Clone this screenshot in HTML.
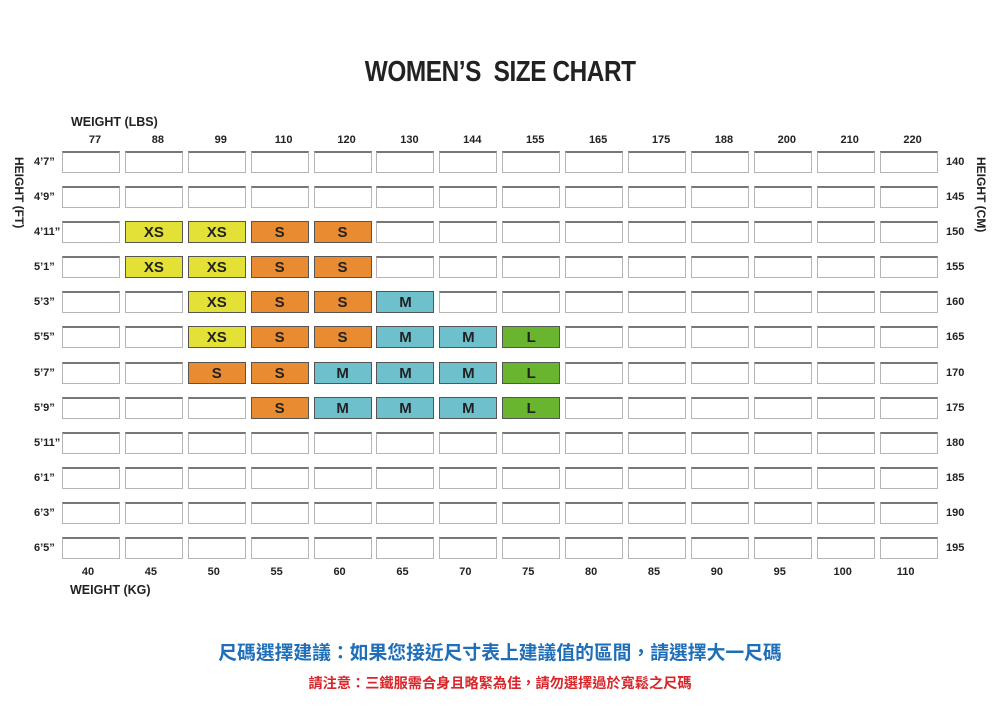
<!DOCTYPE html>
<html><head><meta charset="utf-8"><style>
body{margin:0;width:1000px;height:707px;background:#fff;position:relative;overflow:hidden;font-family:"Liberation Sans",Arial,sans-serif;color:#222}
.t{position:absolute;left:0;width:1000px;top:56px;text-align:center;font-size:29px;font-weight:bold;letter-spacing:-0.5px}
.t span{display:inline-block;transform:scaleX(0.84)}
.g{position:absolute;left:62px;top:151px;display:grid;grid-template-columns:repeat(14,58px);column-gap:4.9px;grid-auto-rows:22px;row-gap:13.1px}
.g i{box-sizing:border-box;border:1px solid #b5b5b5;border-top:2px solid #777;font-style:normal;font-weight:bold;font-size:15px;text-align:center;line-height:22px;color:#222}
.g i.y{background:#e3e036;border:1px solid #555}
.g i.o{background:#e88b31;border:1px solid #555}
.g i.c{background:#6fc0cd;border:1px solid #555}
.g i.l{background:#6ab52f;border:1px solid #555}
.h{position:absolute;display:grid;grid-template-columns:repeat(14,58px);column-gap:4.9px;font-size:11px;font-weight:bold;text-align:center}
.v{position:absolute;font-size:11px;font-weight:bold;line-height:35.1px}
.lab{position:absolute;font-size:12.5px;font-weight:bold}
.rot{position:absolute;font-size:12px;font-weight:bold;transform:rotate(90deg);transform-origin:left top;white-space:nowrap}
.cn1{position:absolute;left:0;width:1000px;top:638px;text-align:center;font-family:"Liberation Sans","Noto Sans CJK TC",sans-serif;font-size:18.8px;font-weight:bold;color:#1f6fb8}
.cn2{position:absolute;left:0;width:1000px;top:673px;text-align:center;font-family:"Liberation Sans","Noto Sans CJK TC",sans-serif;font-size:14.2px;font-weight:bold;color:#d8262a}
</style></head><body>
<div class="t"><span>WOMEN’S&nbsp; SIZE CHART</span></div>
<div class="lab" style="left:71px;top:115px">WEIGHT (LBS)</div>
<div class="h" style="left:66px;top:134px"><b>77</b><b>88</b><b>99</b><b>110</b><b>120</b><b>130</b><b>144</b><b>155</b><b>165</b><b>175</b><b>188</b><b>200</b><b>210</b><b>220</b></div>
<div class="h" style="left:59px;top:566px"><b>40</b><b>45</b><b>50</b><b>55</b><b>60</b><b>65</b><b>70</b><b>75</b><b>80</b><b>85</b><b>90</b><b>95</b><b>100</b><b>110</b></div>
<div class="lab" style="left:70px;top:583px">WEIGHT (KG)</div>
<div class="rot" style="left:26px;top:157px">HEIGHT (FT)</div>
<div class="rot" style="left:988px;top:157px">HEIGHT (CM)</div>
<div class="v" style="left:34px;top:145px">4’7”<br>4’9”<br>4’11”<br>5’1”<br>5’3”<br>5’5”<br>5’7”<br>5’9”<br>5’11”<br>6’1”<br>6’3”<br>6’5”</div>
<div class="v" style="left:946px;top:145px">140<br>145<br>150<br>155<br>160<br>165<br>170<br>175<br>180<br>185<br>190<br>195</div>
<div class="g">
<i></i><i></i><i></i><i></i><i></i><i></i><i></i><i></i><i></i><i></i><i></i><i></i><i></i><i></i>
<i></i><i></i><i></i><i></i><i></i><i></i><i></i><i></i><i></i><i></i><i></i><i></i><i></i><i></i>
<i></i><i class="y">XS</i><i class="y">XS</i><i class="o">S</i><i class="o">S</i><i></i><i></i><i></i><i></i><i></i><i></i><i></i><i></i><i></i>
<i></i><i class="y">XS</i><i class="y">XS</i><i class="o">S</i><i class="o">S</i><i></i><i></i><i></i><i></i><i></i><i></i><i></i><i></i><i></i>
<i></i><i></i><i class="y">XS</i><i class="o">S</i><i class="o">S</i><i class="c">M</i><i></i><i></i><i></i><i></i><i></i><i></i><i></i><i></i>
<i></i><i></i><i class="y">XS</i><i class="o">S</i><i class="o">S</i><i class="c">M</i><i class="c">M</i><i class="l">L</i><i></i><i></i><i></i><i></i><i></i><i></i>
<i></i><i></i><i class="o">S</i><i class="o">S</i><i class="c">M</i><i class="c">M</i><i class="c">M</i><i class="l">L</i><i></i><i></i><i></i><i></i><i></i><i></i>
<i></i><i></i><i></i><i class="o">S</i><i class="c">M</i><i class="c">M</i><i class="c">M</i><i class="l">L</i><i></i><i></i><i></i><i></i><i></i><i></i>
<i></i><i></i><i></i><i></i><i></i><i></i><i></i><i></i><i></i><i></i><i></i><i></i><i></i><i></i>
<i></i><i></i><i></i><i></i><i></i><i></i><i></i><i></i><i></i><i></i><i></i><i></i><i></i><i></i>
<i></i><i></i><i></i><i></i><i></i><i></i><i></i><i></i><i></i><i></i><i></i><i></i><i></i><i></i>
<i></i><i></i><i></i><i></i><i></i><i></i><i></i><i></i><i></i><i></i><i></i><i></i><i></i><i></i>
</div>
<div class="cn1">尺碼選擇建議：如果您接近尺寸表上建議值的區間，請選擇大一尺碼</div>
<div class="cn2">請注意：三鐵服需合身且略緊為佳，請勿選擇過於寬鬆之尺碼</div>
</body></html>
